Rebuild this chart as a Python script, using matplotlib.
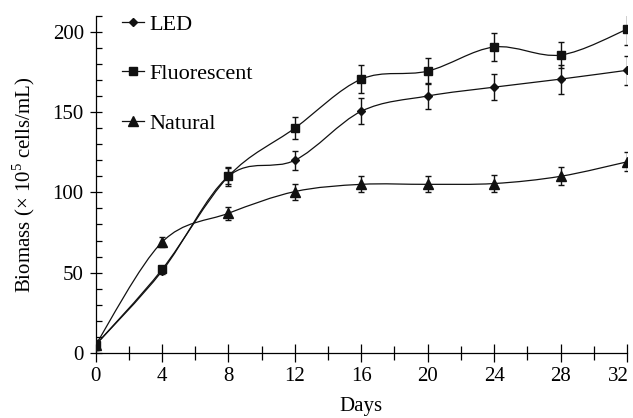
import numpy as np
import matplotlib
matplotlib.use("Agg")
import matplotlib.pyplot as plt
from matplotlib.path import Path
from matplotlib.patches import PathPatch
from matplotlib.lines import Line2D
from matplotlib.ticker import MultipleLocator
from matplotlib.transforms import ScaledTranslation

days = [0, 4, 8, 12, 16, 20, 24, 28, 32]
led = [5, 51, 110, 120, 150.5, 160, 165.5, 170.5, 176]
led_err = [3, 2, 5, 6, 8, 8, 8, 9, 9]
fluorescent = [5, 52, 110, 140, 170.5, 175.5, 190.5, 185.5, 201.5]
fluorescent_err = [3, 2, 6, 7, 8.5, 8, 9, 8, 10]
natural = [5, 69, 87, 100.5, 105, 105, 105.5, 110, 119]
natural_err = [2, 3, 4, 5, 5, 5, 5.5, 5.5, 6]


def smooth_path(x, y):
    # catmull-rom curve through the points, drawn as bezier segments
    pts = np.column_stack([x, y]).astype(float)
    ext = np.vstack([pts[0], pts, pts[-1]])
    verts = [pts[0]]
    codes = [Path.MOVETO]
    for i in range(len(pts) - 1):
        p0, p1, p2, p3 = ext[i], ext[i + 1], ext[i + 2], ext[i + 3]
        verts += [p1 + (p2 - p0) / 6, p2 - (p3 - p1) / 6, p2]
        codes += [Path.CURVE4] * 3
    return Path(verts, codes)


plt.rcParams['font.family'] = ['Liberation Serif', 'DejaVu Serif']
plt.rcParams['font.size'] = 15
plt.rcParams['mathtext.fontset'] = 'custom'
plt.rcParams['mathtext.rm'] = 'Liberation Serif'

fig = plt.figure(figsize=(6.33, 4.18), dpi=100)
ax = fig.add_axes([0.151, 0.1555, 0.8395, 0.807])

series = [
    ("LED", led, led_err, 'D', 4.3),
    ("Fluorescent", fluorescent, fluorescent_err, 's', 6),
    ("Natural", natural, natural_err, '^', 6.5),
]

handles = []
for name, vals, err, mk, ms in series:
    ax.add_patch(PathPatch(smooth_path(days, vals), facecolor='none',
                           edgecolor='#111111', lw=0.9, zorder=2))
    ax.errorbar(days, vals, yerr=err, fmt='none', ecolor='#111111',
                elinewidth=1.0, capsize=2.5, capthick=1.0, zorder=3)
    ax.plot(days, vals, linestyle='none', marker=mk, markersize=ms,
            color='#111111', zorder=4)
    handles.append(Line2D([], [], color='#111111', lw=0.9, marker=mk,
                          markersize=ms, label=name))

ax.legend(handles=handles, loc='upper left', bbox_to_anchor=(0.05, 1.005),
          frameon=False, handlelength=0.98, handletextpad=0.23,
          labelspacing=1.31, borderpad=0, borderaxespad=0, fontsize=16)

ax.set_xlim(0, 32)
ax.set_ylim(0, 210)
ax.set_xticks(range(0, 33, 4))
ax.xaxis.set_minor_locator(MultipleLocator(2))
ax.set_yticks([0, 50, 100, 150, 200])
ax.yaxis.set_minor_locator(MultipleLocator(10))

ax.spines['top'].set_visible(False)
ax.spines['right'].set_visible(False)
for s in ['left', 'bottom']:
    ax.spines[s].set_linewidth(0.9)

ax.tick_params(axis='x', which='major', direction='inout', length=13.5, width=0.9, pad=3)
ax.tick_params(axis='x', which='minor', direction='inout', length=9.5, width=0.9)
ax.tick_params(axis='y', which='major', direction='inout', length=9, width=0.9, pad=4)
ax.tick_params(axis='y', which='minor', direction='in', length=4, width=0.9)

# last tick label sits a little left so it stays inside the figure
last = ax.get_xticklabels()[-1]
last.set_transform(last.get_transform() + ScaledTranslation(-6 / 72, 0, fig.dpi_scale_trans))

ax.set_xlabel("Days", labelpad=8)
ax.set_ylabel(r"Biomass ($\times$ 10$^5$ cells/mL)", labelpad=11)

fig.savefig("out.png", dpi=100)
